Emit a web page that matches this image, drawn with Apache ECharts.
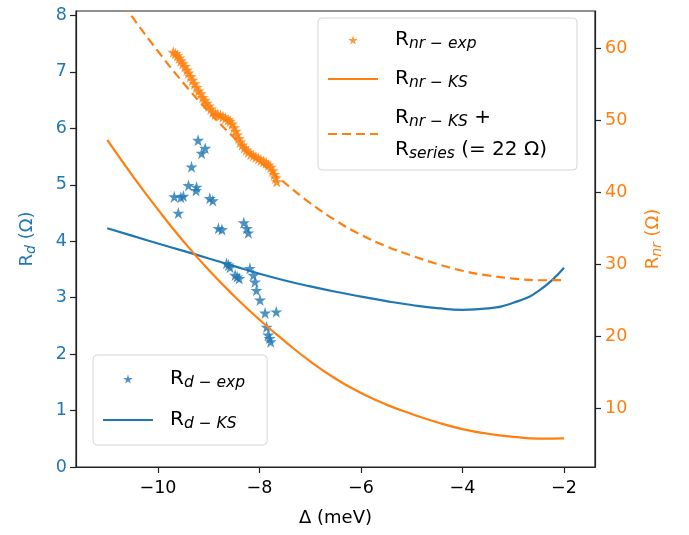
<!DOCTYPE html>
<html>
<head>
<meta charset="utf-8">
<script src="https://cdn.jsdelivr.net/npm/echarts@6/dist/echarts.min.js"></script>
<style>
  html, body { margin: 0; padding: 0; background: #fff; }
  #chart { width: 689px; height: 535px; }
</style>
</head>
<body>
<div id="chart"></div>
<script>
// 颜色
var blue = '#1f77b4';
var orange = '#ff7f0e';
var font = 'DejaVu Sans';

// 刻度
var xTicks = [-10, -8, -6, -4, -2];
var rdTicks = [0, 1, 2, 3, 4, 5, 6, 7, 8];
var rnrTicks = [10, 20, 30, 40, 50, 60];

// 理论曲线 (KS)
var deltaKS = [-11, -10.5, -10, -9.5, -9, -8.5, -8, -7.5, -7, -6.5, -6, -5.5, -5, -4.5, -4, -3.5, -3, -2.5, -2];
var rdKS = [4.23, 4.095, 3.96, 3.83, 3.695, 3.56, 3.425, 3.305, 3.2, 3.105, 3.02, 2.94, 2.87, 2.815, 2.785, 2.81, 2.91, 3.12, 3.53];
var rnrKS = [47.3, 42.3, 37.6, 33.2, 29.2, 25.6, 22.3, 19.3, 16.5, 14.1, 12.1, 10.5, 9.2, 8.05, 7.1, 6.45, 6.02, 5.78, 5.82];
var rSeries = 22;

// 实验点
var rdExp = [
  [-9.21, 5.79], [-9.07, 5.65], [-9.14, 5.56], [-9.34, 5.32], [-9.40, 4.99], [-9.24, 4.96],
  [-9.25, 4.90], [-9.68, 4.79], [-9.50, 4.80], [-9.55, 4.78], [-9.60, 4.50], [-8.98, 4.76],
  [-8.92, 4.72], [-8.81, 4.23], [-8.74, 4.21], [-8.31, 4.33], [-8.25, 4.23], [-8.22, 4.15],
  [-8.65, 3.61], [-8.58, 3.54], [-8.61, 3.58], [-8.48, 3.40], [-8.40, 3.34], [-8.44, 3.37],
  [-8.19, 3.52], [-8.12, 3.40], [-8.09, 3.28], [-8.06, 3.13], [-7.99, 2.96], [-7.89, 2.73],
  [-7.67, 2.75], [-7.86, 2.48], [-7.83, 2.34], [-7.78, 2.22], [-7.80, 2.28]
];
var rnrExp = [
  [-9.70, 59.5], [-9.66, 59.3], [-9.62, 59.0], [-9.58, 58.7], [-9.55, 58.3], [-9.51, 57.9],
  [-9.47, 57.5], [-9.43, 57.0], [-9.40, 56.6], [-9.36, 56.1], [-9.32, 55.6], [-9.28, 55.1],
  [-9.24, 54.6], [-9.20, 54.1], [-9.16, 53.7], [-9.12, 53.2], [-9.08, 52.8], [-9.04, 52.4],
  [-9.00, 52.0], [-8.96, 51.6], [-8.92, 51.2], [-8.87, 50.9], [-8.82, 50.8], [-8.77, 50.7],
  [-8.72, 50.5], [-8.67, 50.3], [-8.62, 50.1], [-8.58, 49.9], [-8.54, 49.5], [-8.50, 49.0],
  [-8.47, 48.5], [-8.44, 48.0], [-8.41, 47.5], [-8.38, 47.0], [-8.34, 46.6], [-8.30, 46.2],
  [-8.26, 45.9], [-8.22, 45.6], [-8.17, 45.3], [-8.12, 45.1], [-8.07, 44.9], [-8.02, 44.7],
  [-7.97, 44.5], [-7.92, 44.3], [-7.87, 44.1], [-7.82, 43.8], [-7.78, 43.5], [-7.74, 43.0],
  [-7.71, 42.5], [-7.68, 42.0], [-7.66, 41.5]
];

var star = 'path://M50,0 L61,35 L98,35 L68,57 L79,91 L50,70 L21,91 L32,57 L2,35 L39,35 Z';

function pairs(xs, ys) {
  return xs.map(function (x, i) { return [x, ys[i]]; });
}

var rich = {
  g: { width: 12 },
  r: { fontFamily: font, fontSize: 20, color: '#000' },
  s: { fontFamily: font, fontSize: 15.5, fontStyle: 'italic', color: '#000', padding: [8, 0, 0, 0] }
};
var labels = {
  'Rnr-exp': '{g| }{r|R}{s|nr \u2212 exp}',
  'Rnr-KS': '{g| }{r|R}{s|nr \u2212 KS}',
  'Rnr-KS+Rs': '{g| }{r|R}{s|nr \u2212 KS}{r| +}\n{g| }{r|R}{s|series}{r| (= 22 \u03a9)}',
  'Rd-exp': '{g| }{r|R}{s|d \u2212 exp}',
  'Rd-KS': '{g| }{r|R}{s|d \u2212 KS}'
};

var legendBase = {
  orient: 'vertical',
  itemWidth: 50,
  itemHeight: 9,
  backgroundColor: 'rgba(255,255,255,0.8)',
  borderColor: '#d6d6d6',
  borderWidth: 1,
  borderRadius: 4,
  formatter: function (name) { return labels[name]; },
  textStyle: { fontFamily: font, fontSize: 20, lineHeight: 32, rich: rich }
};
var noDot = { opacity: 0 };

function lineSeries(name, axis, color, values, dash) {
  return {
    name: name,
    type: 'line',
    yAxisIndex: axis,
    smooth: true,
    showSymbol: false,
    symbol: 'none',
    lineStyle: { color: color, width: 2.2, type: dash || 'solid' },
    itemStyle: { color: color },
    data: pairs(deltaKS, values)
  };
}

var chart = echarts.init(document.getElementById('chart'));
chart.setOption({
  animation: false,
  backgroundColor: '#fff',
  textStyle: { fontFamily: font },
  grid: { left: 76, right: 94, top: 11, bottom: 68, show: true, borderColor: '#222', borderWidth: 1.2, containLabel: false },
  legend: [
    Object.assign({}, legendBase, {
      data: ['Rnr-exp', { name: 'Rnr-KS', itemStyle: noDot }, { name: 'Rnr-KS+Rs', itemStyle: noDot }],
      left: 318, top: 18, itemGap: 7, padding: [6, 30, 4, 9]
    }),
    Object.assign({}, legendBase, {
      data: ['Rd-exp', { name: 'Rd-KS', itemStyle: noDot }],
      left: 93, top: 355, itemGap: 9, padding: [8, 22, 9, 9]
    })
  ],
  xAxis: {
    type: 'value',
    min: -11.616, max: -1.389,
    name: '\u0394 (meV)',
    nameLocation: 'middle',
    nameGap: 42,
    nameTextStyle: { fontFamily: font, fontSize: 18, color: '#000' },
    axisLine: { lineStyle: { color: '#222', width: 1.2 } },
    axisTick: { length: 6, customValues: xTicks, lineStyle: { color: '#222', width: 1.2 } },
    axisLabel: {
      customValues: xTicks, margin: 12, fontFamily: font, fontSize: 17.5, color: '#000',
      formatter: function (v) { return String(v).replace('-', '\u2212'); }
    },
    splitLine: { show: false }
  },
  yAxis: [{
    type: 'value',
    min: 0, max: 8.08,
    position: 'left',
    name: '{r|R}{s|d}{r| (\u03a9)}',
    nameLocation: 'middle',
    nameRotate: 90,
    nameGap: 38,
    nameTextStyle: {
      rich: {
        r: { fontFamily: font, fontSize: 18, color: blue },
        s: { fontFamily: font, fontSize: 14, fontStyle: 'italic', color: blue, padding: [8, 0, 0, 0] }
      }
    },
    axisLine: { show: true, lineStyle: { color: '#222', width: 1.2 } },
    axisTick: { show: true, length: 6, customValues: rdTicks, lineStyle: { color: '#222', width: 1.2 } },
    axisLabel: { customValues: rdTicks, margin: 9, fontFamily: font, fontSize: 17.5, color: blue },
    splitLine: { show: false }
  }, {
    type: 'value',
    min: 1.83, max: 65.2,
    position: 'right',
    name: '{r|R}{s|nr}{r| (\u03a9)}',
    nameLocation: 'middle',
    nameRotate: 90,
    nameGap: 47,
    nameTextStyle: {
      rich: {
        r: { fontFamily: font, fontSize: 18, color: orange },
        s: { fontFamily: font, fontSize: 14, fontStyle: 'italic', color: orange, padding: [8, 0, 0, 0] }
      }
    },
    axisLine: { show: true, lineStyle: { color: '#222', width: 1.2 } },
    axisTick: { show: true, length: 6, customValues: rnrTicks, lineStyle: { color: '#222', width: 1.2 } },
    axisLabel: { customValues: rnrTicks, margin: 10, fontFamily: font, fontSize: 17.5, color: orange },
    splitLine: { show: false }
  }],
  series: [{
    name: 'Rd-exp',
    type: 'scatter',
    yAxisIndex: 0,
    symbol: star,
    symbolSize: 12,
    itemStyle: { color: blue },
    data: rdExp
  },
  lineSeries('Rd-KS', 0, blue, rdKS),
  {
    name: 'Rnr-exp',
    type: 'scatter',
    yAxisIndex: 1,
    symbol: star,
    symbolSize: 12,
    itemStyle: { color: orange },
    data: rnrExp
  },
  lineSeries('Rnr-KS', 1, orange, rnrKS),
  lineSeries('Rnr-KS+Rs', 1, orange, rnrKS.map(function (v) { return v + rSeries; }), [9, 5])
  ]
});
</script>
</body>
</html>
